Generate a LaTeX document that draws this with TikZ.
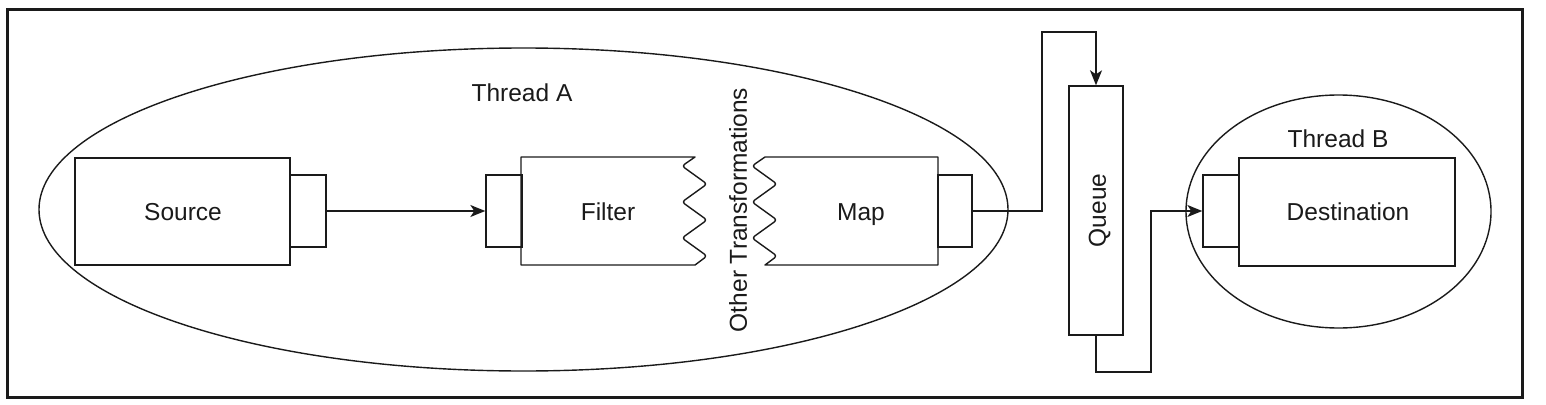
\documentclass[tikz,border=0pt]{standalone}
\usepackage{fontspec}
\setmainfont{Liberation Sans}
\usetikzlibrary{shapes.geometric,arrows.meta}
\definecolor{ink}{HTML}{1A1A1A}
\tikzset{
  lw/.style={line width=1.4pt, draw=ink},
  boxnode/.style={lw, rectangle, inner sep=0pt},
  portnode/.style={lw, rectangle, inner sep=0pt, minimum width=36pt, minimum height=72pt},
  threadnode/.style={lw, ellipse, inner sep=0pt},
  lbl/.style={inner sep=0pt, text=ink, font=\fontsize{24.5}{29}\selectfont, text height=17.5pt, text depth=0pt},
  conn/.style={lw, -{Stealth[length=15pt,width=12pt,inset=4pt]}},
  wave/.style={lw, line join=round}
}
\begin{document}
\begin{tikzpicture}[x=1pt,y=-1pt]
\useasboundingbox (0,0) rectangle (1546,404);
% outer frame
\draw[line width=3pt, draw=ink] (7,10) rectangle (1522,397);
% threads
\node[threadnode, minimum width=969pt, minimum height=323pt] (ta) at (523.5,209.5) {};
\node[threadnode, minimum width=305pt, minimum height=233pt] (tb) at (1338.5,211.5) {};
\node[lbl] (talbl) at (522,93) {Thread A};
\node[lbl] (tblbl) at (1338,139) {Thread B};
% source
\node[boxnode, minimum width=215pt, minimum height=107pt] (src) at (182.5,211.5) {};
\node[lbl] (srclbl) at (183,212) {Source};
\node[portnode] (sp) at (308,211) {};
% filter
\node[portnode] (fp) at (504,211) {};
\draw[wave] (521,265) -- (521,157) -- (695,157)
  {[rounded corners=3pt] -- (682,166) -- (707,184) -- (682,202) -- (707,220) -- (682,238) -- (707,256)} -- (695,265) -- cycle;
\node[lbl] (filt) at (608,212) {Filter};
% other transformations
\node[lbl, rotate=90] (other) at (738,210) {Other Transformations};
% map
\draw[wave] (765,265) -- (938,265) -- (938,157) -- (765,157)
  {[rounded corners=3pt] -- (752,166) -- (777,184) -- (752,202) -- (777,220) -- (752,238) -- (777,256)} -- cycle;
\node[lbl] (map) at (861,212) {Map};
\node[portnode, minimum width=34pt] (mp) at (955,211) {};
% queue
\node[boxnode, minimum width=54pt, minimum height=249pt] (queue) at (1096,210.5) {};
\node[lbl, rotate=90] (queuelbl) at (1097,210.5) {Queue};
% destination
\node[boxnode, minimum width=216pt, minimum height=108pt] (dst) at (1347,212) {};
\node[lbl] (dstlbl) at (1348,212) {Destination};
\node[portnode] (dp) at (1221,211) {};
% connectors
\coordinate (c1) at (1042,32);
\coordinate (c2) at (1151,372);
\draw[conn] (sp.east) -- (fp.west);
\draw[conn] (mp.east) -| (c1) -| (queue.north);
\draw[conn] (queue.south) |- (c2) |- (dp.west);
\end{tikzpicture}
\end{document}
